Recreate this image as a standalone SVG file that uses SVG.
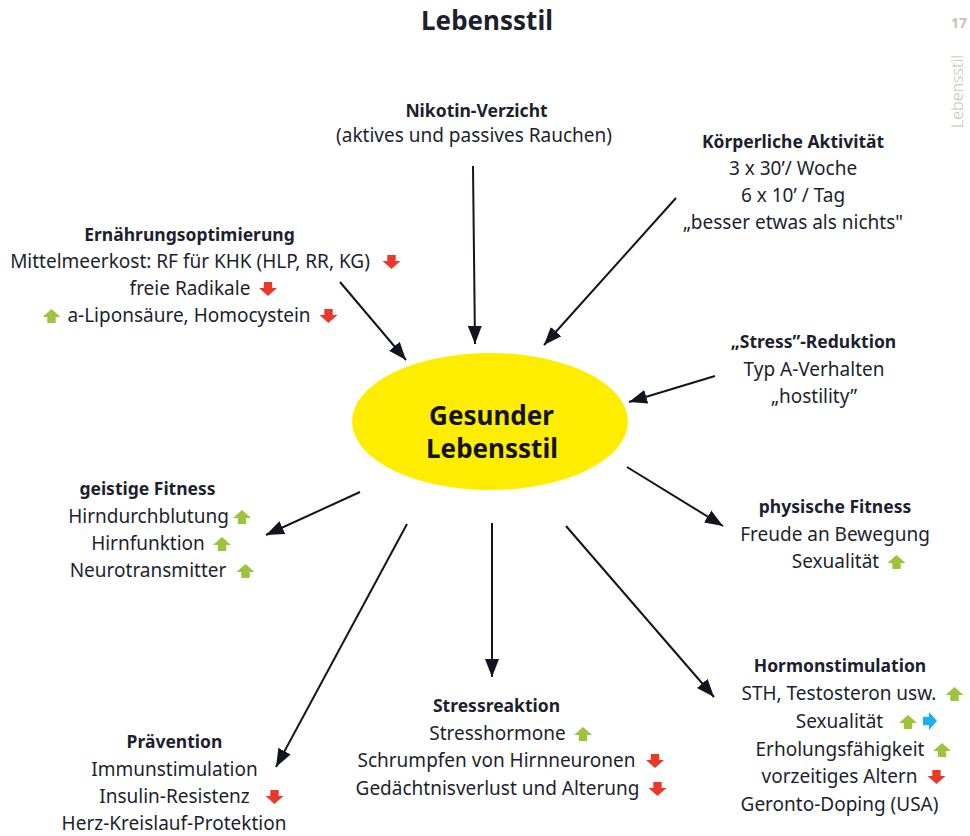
<svg xmlns="http://www.w3.org/2000/svg" xmlns:xlink="http://www.w3.org/1999/xlink" width="970" height="836" viewBox="0 0 970 836">
<defs>
<style>
text{font-family:"Noto Sans","Open Sans","Liberation Sans",sans-serif;fill:#1d1f2e;}
.t{font-size:17.5px;font-weight:700;text-anchor:middle;}
.b{font-size:19px;text-anchor:middle;}
.c{font-size:26px;font-weight:700;text-anchor:middle;fill:#12131c;}
.con{stroke:#12141f;stroke-width:2;fill:none;marker-end:url(#ah);}
.up{fill:#9cc43c;}
.dn{fill:#e8392b;}
.rt{fill:#1ab2e8;}
.side{fill:#c9c0b6;}
</style>
<marker id="ah" markerUnits="userSpaceOnUse" markerWidth="20" markerHeight="16" refX="18" refY="8" orient="auto">
<path d="M0,1 L18,8 L0,15 Z" fill="#12141f"/>
</marker>
<path id="au" d="M0,-7 L9,1 L4.2,1 L4.2,7 L-4.2,7 L-4.2,1 L-9,1 Z"/>
</defs>
<rect width="970" height="836" fill="#ffffff"/>

<text x="487" y="30" style="font-size:26px;font-weight:700;text-anchor:middle;">Lebensstil</text>
<text x="967" y="28" class="side" style="font-size:14px;font-weight:700;text-anchor:end;">17</text>
<text transform="translate(963,128) rotate(-90)" class="side" style="font-size:16px;font-weight:300;">Lebensstil</text>

<g id="connectors">
<line class="con" x1="473" y1="166" x2="475" y2="344"/>
<line class="con" x1="676" y1="198" x2="544" y2="345"/>
<line class="con" x1="340" y1="282" x2="406" y2="360"/>
<line class="con" x1="715" y1="376" x2="629" y2="402"/>
<line class="con" x1="360" y1="492" x2="266" y2="535"/>
<line class="con" x1="627" y1="467" x2="723" y2="526"/>
<line class="con" x1="407" y1="524" x2="276" y2="767"/>
<line class="con" x1="492" y1="523" x2="492" y2="677"/>
<line class="con" x1="566" y1="526" x2="714" y2="697"/>
</g>

<g id="center">
<ellipse cx="490" cy="421.5" rx="138" ry="68.5" fill="#ffed00"/>
<text class="c" x="491.5" y="425">Gesunder</text>
<text class="c" x="492" y="458">Lebensstil</text>
</g>

<g id="nikotin">
<text class="t" x="476.5" y="117">Nikotin-Verzicht</text>
<text class="b" x="474" y="142">(aktives und passives Rauchen)</text>
</g>

<g id="koerper">
<text class="t" x="793" y="148">Körperliche Aktivität</text>
<text class="b" x="793" y="175">3 x 30’/ Woche</text>
<text class="b" x="793" y="202">6 x 10’ / Tag</text>
<text class="b" x="793" y="229">„besser etwas als nichts"</text>
</g>

<g id="ernaehrung">
<text class="t" x="189.5" y="241">Ernährungsoptimierung</text>
<text class="b" x="190" y="268">Mittelmeerkost: RF für KHK (HLP, RR, KG)</text>
<use href="#au" class="dn" transform="translate(391.5,262) rotate(180)"/>
<text class="b" x="190" y="295">freie Radikale</text>
<use href="#au" class="dn" transform="translate(268,289) rotate(180)"/>
<use href="#au" class="up" transform="translate(51.5,316)"/>
<text class="b" x="189" y="322">a-Liponsäure, Homocystein</text>
<use href="#au" class="dn" transform="translate(328.5,316) rotate(180)"/>
</g>

<g id="stressred">
<text class="t" x="813.5" y="348">„Stress”-Reduktion</text>
<text class="b" x="814" y="376">Typ A-Verhalten</text>
<text class="b" x="814" y="403">„hostility”</text>
</g>

<g id="geistig">
<text class="t" x="147.5" y="495">geistige Fitness</text>
<text class="b" x="148.5" y="523">Hirndurchblutung</text>
<use href="#au" class="up" transform="translate(242,517)"/>
<text class="b" x="148" y="550">Hirnfunktion</text>
<use href="#au" class="up" transform="translate(222,544)"/>
<text class="b" x="148" y="577">Neurotransmitter</text>
<use href="#au" class="up" transform="translate(245.5,571)"/>
</g>

<g id="physisch">
<text class="t" x="835" y="513">physische Fitness</text>
<text class="b" x="835" y="541">Freude an Bewegung</text>
<text class="b" x="835.5" y="568">Sexualität</text>
<use href="#au" class="up" transform="translate(896.5,562)"/>
</g>

<g id="praevention">
<text class="t" x="174.5" y="748">Prävention</text>
<text class="b" x="174.5" y="776">Immunstimulation</text>
<text class="b" x="174.5" y="803">Insulin-Resistenz</text>
<use href="#au" class="dn" transform="translate(274.5,797) rotate(180)"/>
<text class="b" x="174" y="830">Herz-Kreislauf-Protektion</text>
</g>

<g id="stressreaktion">
<text class="t" x="496.5" y="712">Stressreaktion</text>
<text class="b" x="497.5" y="740">Stresshormone</text>
<use href="#au" class="up" transform="translate(583,734)"/>
<text class="b" x="496.5" y="767">Schrumpfen von Hirnneuronen</text>
<use href="#au" class="dn" transform="translate(655,761) rotate(180)"/>
<text class="b" x="497.5" y="795">Gedächtnisverlust und Alterung</text>
<use href="#au" class="dn" transform="translate(657.5,789) rotate(180)"/>
</g>

<g id="hormon">
<text class="t" x="840" y="672">Hormonstimulation</text>
<text class="b" x="839" y="700">STH, Testosteron usw.</text>
<use href="#au" class="up" transform="translate(954.5,694)"/>
<text class="b" x="839.5" y="728">Sexualität</text>
<use href="#au" class="up" transform="translate(908,722)"/>
<use href="#au" class="rt" transform="translate(930,721) rotate(90)"/>
<text class="b" x="840" y="756">Erholungsfähigkeit</text>
<use href="#au" class="up" transform="translate(942,750)"/>
<text class="b" x="839.5" y="783">vorzeitiges Altern</text>
<use href="#au" class="dn" transform="translate(936.5,777) rotate(180)"/>
<text class="b" x="839.5" y="811">Geronto-Doping (USA)</text>
</g>
</svg>
